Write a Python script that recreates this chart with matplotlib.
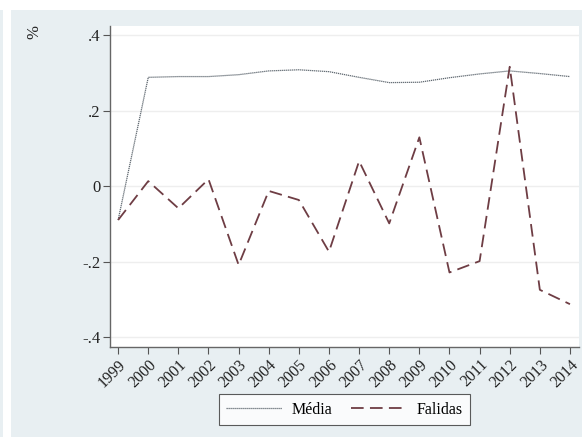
import matplotlib
matplotlib.use("Agg")
import matplotlib.pyplot as plt
from matplotlib.patches import Rectangle

plt.rcParams['font.family'] = ['Liberation Serif', 'DejaVu Serif']

years = list(range(1999, 2015))
media = [-0.09, 0.288, 0.290, 0.290, 0.295, 0.305, 0.308, 0.303, 0.288, 0.274,
         0.275, 0.287, 0.297, 0.305, 0.298, 0.290]
falidas = [-0.09, 0.013, -0.059, 0.018, -0.209, -0.013, -0.037, -0.174, 0.066, -0.099,
           0.129, -0.229, -0.199, 0.316, -0.275, -0.313]
yticks = [-0.4, -0.2, 0, 0.2, 0.4]
ytick_labels = ['-.4', '-.2', '0', '.2', '.4']

bg = '#e8eff2'
W, H = 585, 437
fig = plt.figure(figsize=(W / 100, H / 100), dpi=100, facecolor='white')

# stata-like background panel
fig.patches.append(Rectangle((11 / W, 0), 571 / W, 427 / H, transform=fig.transFigure,
                             facecolor=bg, edgecolor='none', zorder=-10))
fig.patches.append(Rectangle((0, 0), 3 / W, 427 / H, transform=fig.transFigure,
                             facecolor=bg, edgecolor='none', zorder=-10))

ax = fig.add_axes([110 / W, 1 - 347 / H, 469 / W, 321 / H])
ax.set_facecolor('white')

ax.plot(years, media, color='#5f6870', linestyle=(0, (1, 0.6)), linewidth=0.9, label='Média')
ax.plot(years, falidas, color='#6e3d44', linestyle=(0, (7, 3.5)), linewidth=1.3, label='Falidas')

ax.set_xlim(1998.73, 2014.3)
ax.set_ylim(-0.4265, 0.424)
ax.set_xticks(years)
ax.set_xticklabels([str(y) for y in years], rotation=45, ha='right', rotation_mode='anchor',
                   fontsize=11.5, color='#222222')
ax.set_yticks(yticks)
ax.set_yticklabels(ytick_labels, fontsize=12, color='#222222')
ax.tick_params(axis='both', length=5, width=0.8, color='#555555', pad=2)

for y in yticks:
    ax.axhline(y, color='#eeeeee', linewidth=1.0, zorder=0)

for side in ['top', 'right']:
    ax.spines[side].set_visible(False)
for side in ['left', 'bottom']:
    ax.spines[side].set_color('#666666')
    ax.spines[side].set_linewidth(1.0)

fig.text(34 / W, 1 - 32 / H, '%', rotation=90, fontsize=12, color='#222222',
         ha='center', va='center')

leg = ax.legend(loc='center', bbox_to_anchor=(0.5, (347 - 409.5) / 321), ncol=2,
                fontsize=11.5, frameon=True, fancybox=False, edgecolor='#333333',
                handlelength=3.5, columnspacing=1.2, borderpad=0.45, handletextpad=0.6)
leg.get_frame().set_linewidth(0.8)

fig.savefig('out.png', dpi=100, facecolor='white')
